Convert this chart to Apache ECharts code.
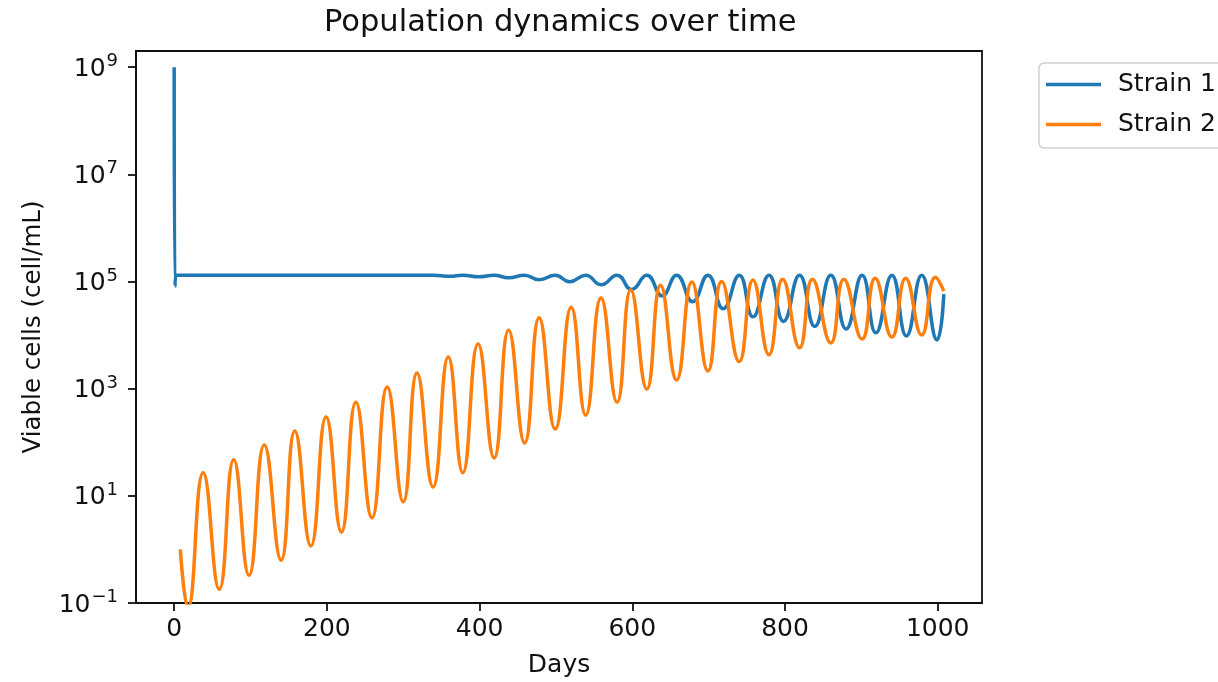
<!DOCTYPE html>
<html>
<head>
<meta charset="utf-8">
<title>Population dynamics over time</title>
<script src="https://cdn.jsdelivr.net/npm/echarts@6/dist/echarts.min.js"></script>
<style>
  html, body { margin: 0; padding: 0; background: #fff; }
  #chart { width: 1218px; height: 682px; }
</style>
</head>
<body>
<div id="chart"></div>
<script>
// turning points of each curve (day, cells/mL)
const strain1Days = [0, 1, 4, 339, 361, 378, 399, 419, 438, 459, 478, 499, 518, 539, 559, 580, 599, 619,
  639, 658, 679, 699, 719, 740, 758, 779, 798, 819, 839, 860, 880, 901, 919, 940, 959, 979, 999, 1008];
const strain1Cells = [1e9, 8.2e4, 1.31e5, 1.31e5, 1.25e5, 1.31e5, 1.22e5, 1.31e5, 1.17e5, 1.31e5, 1.08e5, 1.31e5,
  9.9e4, 1.31e5, 8.7e4, 1.31e5, 7.1e4, 1.31e5, 5.4e4, 1.31e5, 4.2e4, 1.31e5, 3.1e4, 1.31e5, 2.2e4, 1.31e5,
  1.8e4, 1.31e5, 1.45e4, 1.31e5, 1.3e4, 1.31e5, 1.1e4, 1.31e5, 9.6e3, 1.31e5, 8.1e3, 5.8e4];

const strain2Days = [8, 18, 38, 59, 78, 98, 118, 140, 158, 179, 199, 219, 238, 259, 279, 300, 318, 339,
  359, 378, 398, 419, 438, 459, 478, 499, 520, 539, 559, 580, 598, 619, 637, 658, 678, 699, 717, 740,
  758, 779, 797, 819, 836, 860, 877, 901, 918, 940, 958, 979, 997, 1008];
const strain2Cells = [1.0, 0.08, 27, 0.18, 47, 0.33, 89, 0.63, 162, 1.16, 295, 2.1, 560, 3.9, 1070, 7.7,
  1950, 14.6, 3900, 27, 6800, 51, 12300, 97, 21000, 176, 33000, 320, 49000, 560, 69000, 980, 85000, 1450,
  98000, 2140, 1.0e5, 3200, 1.07e5, 4300, 1.1e5, 5800, 1.1e5, 7100, 1.1e5, 8400, 1.15e5, 9100, 1.15e5,
  1.0e4, 1.2e5, 6.6e4];

const seriesNames = ['Strain 1', 'Strain 2'];
const dayTicks = [0, 200, 400, 600, 800, 1000];
const cellTicks = [0.1, 10, 1e3, 1e5, 1e7, 1e9];

const FONT = 'DejaVu Sans';
const INK = '#111';

function pairs(xs, ys) {
  return xs.map((x, i) => [x, ys[i]]);
}

const chart = echarts.init(document.getElementById('chart'), null, { renderer: 'canvas' });

const option = {
  animation: false,
  backgroundColor: '#fff',
  textStyle: { fontFamily: FONT, color: INK },
  title: {
    text: 'Population dynamics over time',
    left: 324,
    top: 8,
    padding: 0,
    textStyle: { fontFamily: FONT, fontSize: 30.5, fontWeight: 'normal', color: INK }
  },
  legend: {
    orient: 'vertical',
    left: 1039,
    top: 63,
    padding: [9, 10, 11, 7],
    icon: 'rect',
    itemWidth: 55,
    itemHeight: 3.5,
    itemGap: 15,
    backgroundColor: '#fff',
    borderColor: '#d0d0d0',
    borderWidth: 1.5,
    borderRadius: 5,
    textStyle: { fontFamily: FONT, fontSize: 25, color: INK, lineHeight: 24, padding: [0, 0, 0, 12] },
    data: seriesNames
  },
  grid: {
    left: 136, right: 236, top: 51, bottom: 79,
    outerBoundsMode: 'none',
    show: true, borderColor: '#111', borderWidth: 1.8, backgroundColor: 'transparent'
  },
  xAxis: {
    type: 'value',
    min: -50,
    max: 1058,
    name: 'Days',
    nameLocation: 'middle',
    nameGap: 50,
    nameTextStyle: { fontFamily: FONT, fontSize: 25, color: INK },
    axisLine: { show: true, onZero: false, lineStyle: { color: '#111', width: 1.8 } },
    splitLine: { show: false },
    axisTick: { show: true, length: 8, customValues: dayTicks, lineStyle: { color: '#111', width: 1.8 } },
    axisLabel: {
      customValues: dayTicks, margin: 14, fontFamily: FONT, fontSize: 25, color: INK,
      formatter: function (v) { return String(v); }
    }
  },
  yAxis: {
    type: 'log',
    logBase: 10,
    min: 0.1,
    max: 2e9,
    name: 'Viable cells (cell/mL)',
    nameLocation: 'middle',
    nameGap: 90,
    nameTextStyle: { fontFamily: FONT, fontSize: 24.5, color: INK },
    axisLine: { show: true, onZero: false, lineStyle: { color: '#111', width: 1.8 } },
    splitLine: { show: false },
    axisTick: { show: true, length: 8, customValues: cellTicks, lineStyle: { color: '#111', width: 1.8 } },
    axisLabel: {
      customValues: cellTicks,
      margin: 18,
      fontFamily: FONT,
      color: INK,
      formatter: function (v) {
        const e = Math.round(Math.log10(v));
        return '{b|10}{s|' + String(e).replace('-', '\u2212') + '}';
      },
      rich: {
        b: { fontFamily: FONT, fontSize: 25, color: INK, verticalAlign: 'bottom', lineHeight: 29 },
        s: { fontFamily: FONT, fontSize: 18, color: INK, verticalAlign: 'top', lineHeight: 18, padding: [0, 0, 0, 1] }
      }
    }
  },
  series: [
    {
      name: seriesNames[0],
      type: 'line',
      data: pairs(strain1Days, strain1Cells),
      showSymbol: false,
      symbol: 'none',
      smooth: 0.5,
      clip: true,
      color: '#1f77b4',
      lineStyle: { color: '#1f77b4', width: 3.5 }
    },
    {
      name: seriesNames[1],
      type: 'line',
      data: pairs(strain2Days, strain2Cells),
      showSymbol: false,
      symbol: 'none',
      smooth: 0.5,
      clip: true,
      color: '#ff7f0e',
      lineStyle: { color: '#ff7f0e', width: 3.5 }
    }
  ]
};

chart.setOption(option);
window.addEventListener('resize', chart.resize);
</script>
</body>
</html>
